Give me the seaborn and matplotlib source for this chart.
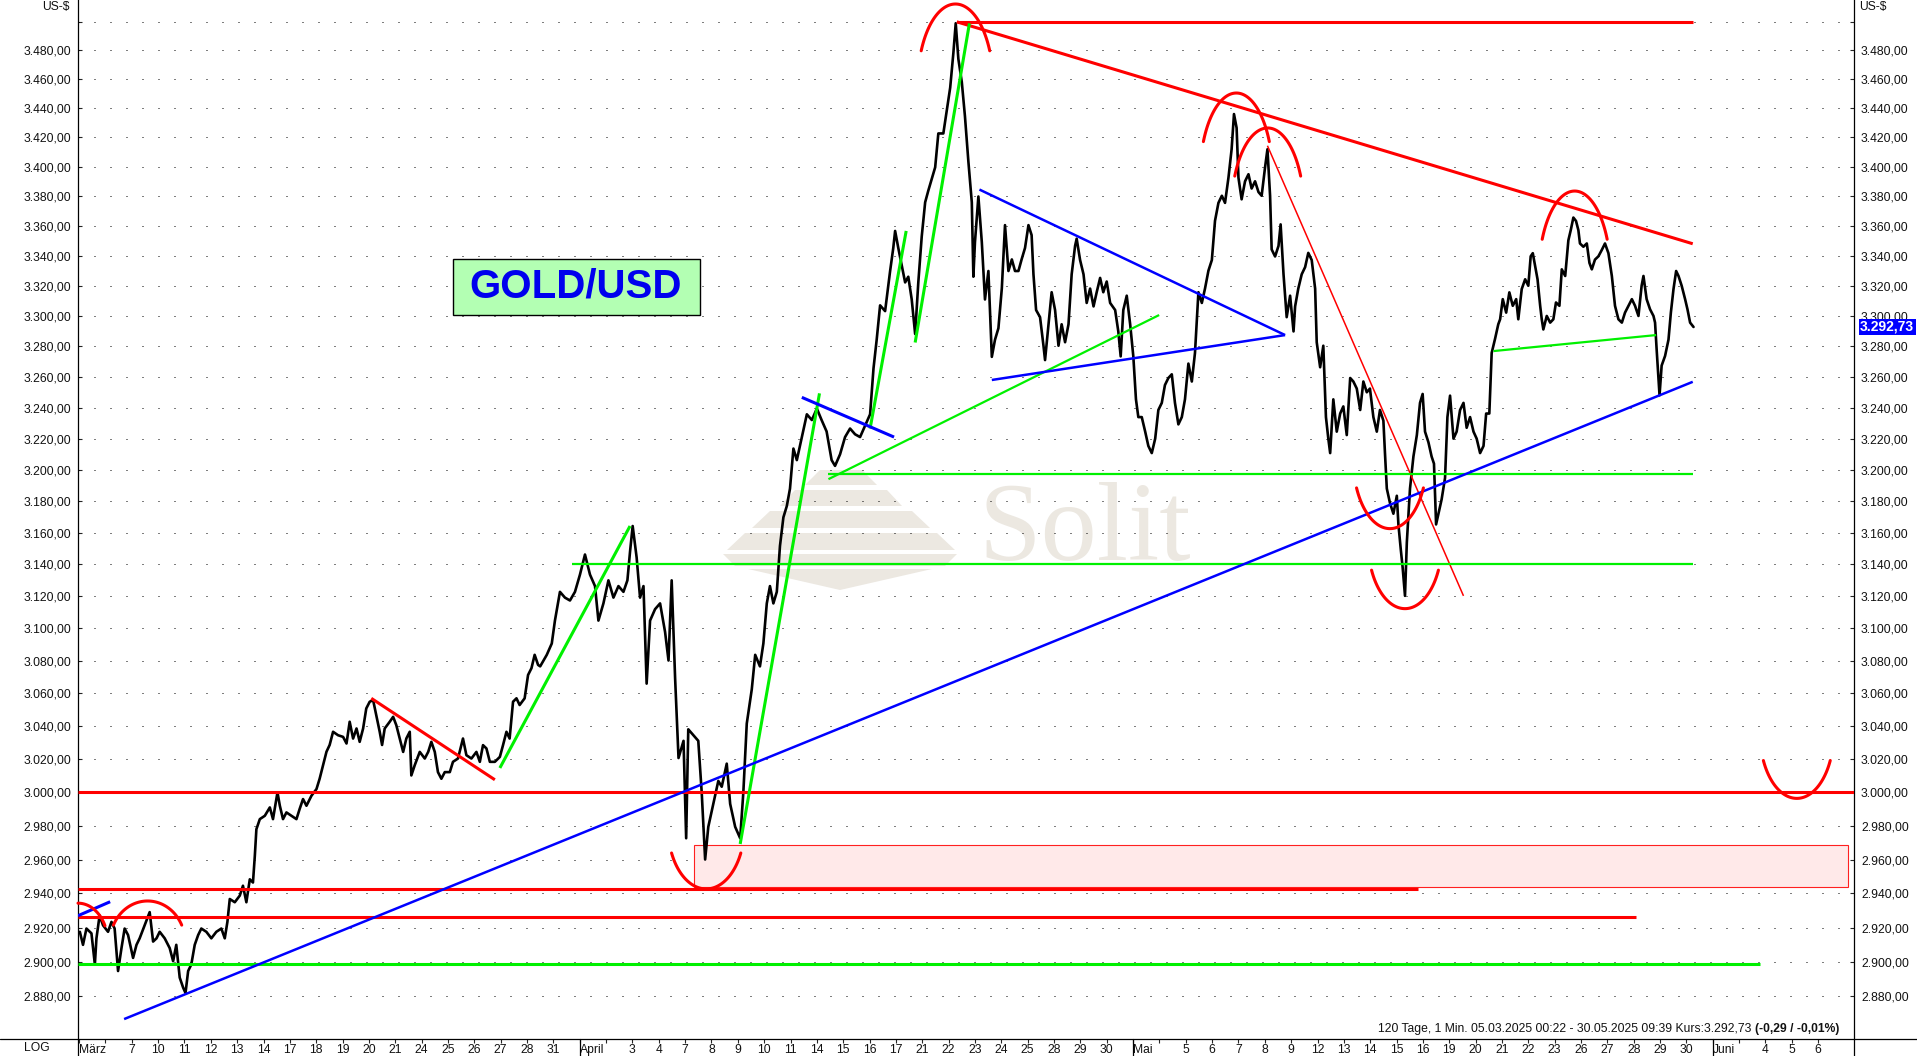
import matplotlib
matplotlib.use("Agg")
import matplotlib.pyplot as plt
import numpy as np
import pandas as pd
import seaborn as sns
from matplotlib.lines import Line2D
from matplotlib.patches import Polygon, Rectangle
from matplotlib.ticker import FixedLocator, FuncFormatter, NullLocator
from matplotlib.transforms import blended_transform_factory

# trading days on the time axis
mar_days = [5, 6, 7, 10, 11, 12, 13, 14, 17, 18, 19, 20, 21, 24, 25, 26, 27, 28, 31]
apr_days = [1, 2, 3, 4, 7, 8, 9, 10, 11, 14, 15, 16, 17, 21, 22, 23, 24, 25, 28, 29, 30]
may_days = [1, 2, 5, 6, 7, 8, 9, 12, 13, 14, 15, 16, 19, 20, 21, 22, 23, 26, 27, 28, 29, 30]
jun_days = [2, 3, 4, 5, 6]
month_names = ["März", "April", "Mai", "Juni"]

path_mar = [
    (0.03, 2917.5), (0.15, 2909.9), (0.28, 2919.4), (0.47, 2916.6), (0.60, 2898.5), (0.66, 2913.7),
    (0.78, 2927.1), (0.91, 2921.3), (1.10, 2917.5), (1.23, 2923.3), (1.35, 2919.4), (1.48, 2894.7),
    (1.61, 2908.0), (1.73, 2919.4), (1.86, 2915.6), (2.05, 2902.3), (2.18, 2909.9), (2.30, 2913.7),
    (2.49, 2921.3), (2.68, 2929.0), (2.81, 2911.8), (2.94, 2913.7), (3.06, 2917.5), (3.25, 2913.7),
    (3.44, 2908.0), (3.57, 2900.4), (3.69, 2909.9), (3.82, 2890.9), (3.95, 2885.1), (4.04, 2882.0),
    (4.14, 2894.7), (4.26, 2898.5), (4.39, 2909.9), (4.52, 2915.6), (4.64, 2919.4), (4.83, 2917.5),
    (5.02, 2913.7), (5.21, 2917.5), (5.40, 2919.4), (5.53, 2913.7), (5.63, 2923.3), (5.72, 2936.7),
    (5.91, 2934.8), (6.10, 2938.7), (6.22, 2944.5), (6.35, 2934.8), (6.48, 2948.3), (6.60, 2946.4),
    (6.67, 2962.0), (6.73, 2978.0), (6.86, 2984.0), (7.05, 2986.0), (7.24, 2991.0), (7.36, 2984.0),
    (7.53, 3000.0), (7.62, 2992.0), (7.74, 2984.0), (7.87, 2988.0), (8.06, 2986.0), (8.25, 2984.0),
    (8.37, 2990.0), (8.50, 2996.0), (8.63, 2992.0), (8.82, 2998.0), (9.01, 3002.0), (9.13, 3008.2),
    (9.26, 3016.3), (9.39, 3024.5), (9.51, 3028.6), (9.64, 3036.6), (9.83, 3034.5), (10.02, 3033.5),
    (10.15, 3029.5), (10.27, 3042.7), (10.40, 3032.5), (10.53, 3038.6), (10.65, 3030.5), (10.78, 3038.6),
    (10.90, 3050.8), (11.03, 3054.9), (11.16, 3055.9), (11.28, 3046.7), (11.41, 3036.6), (11.50, 3028.6),
    (11.60, 3038.6), (11.79, 3042.7), (11.92, 3045.7), (12.04, 3040.6), (12.17, 3032.5), (12.30, 3024.4),
    (12.42, 3032.5), (12.55, 3036.6), (12.61, 3010.2), (12.74, 3016.4), (12.93, 3024.4), (13.12, 3020.4),
    (13.25, 3024.4), (13.37, 3030.5), (13.50, 3024.4), (13.62, 3012.2), (13.75, 3008.2), (13.88, 3012.2),
    (14.07, 3012.2), (14.19, 3018.4), (14.38, 3020.4), (14.57, 3032.5), (14.70, 3022.4), (14.89, 3020.4),
    (15.08, 3024.4), (15.21, 3018.4), (15.33, 3028.5), (15.46, 3026.5), (15.59, 3018.4), (15.78, 3018.4),
    (15.97, 3021.4), (16.09, 3028.5), (16.22, 3036.6), (16.34, 3032.5), (16.47, 3054.9), (16.60, 3057.0),
    (16.72, 3052.9), (16.91, 3057.0), (17.04, 3071.3), (17.17, 3075.5), (17.29, 3083.7), (17.42, 3077.5),
]
path_apr = [
    (17.50, 3076.6), (17.75, 3083.7), (17.94, 3090.7), (18.06, 3104.9), (18.25, 3122.8), (18.44, 3119.2),
    (18.63, 3117.4), (18.82, 3122.8), (19.01, 3133.6), (19.20, 3146.2), (19.39, 3133.6), (19.58, 3126.4),
    (19.71, 3104.9), (19.90, 3115.6), (20.09, 3130.0), (20.28, 3119.2), (20.47, 3126.4), (20.66, 3122.8),
    (20.81, 3130.0), (20.91, 3148.0), (21.01, 3164.2), (21.16, 3144.4), (21.29, 3119.2), (21.42, 3126.4),
    (21.54, 3066.0), (21.67, 3104.9), (21.86, 3112.0), (22.05, 3115.6), (22.24, 3097.8), (22.37, 3080.2),
    (22.49, 3130.0), (22.62, 3069.5), (22.75, 3020.7), (22.94, 3031.1), (23.04, 2972.6), (23.12, 3038.1),
    (23.31, 3034.6), (23.50, 3031.1), (23.63, 3000.0), (23.76, 2960.0), (23.88, 2979.4), (24.07, 2993.1),
    (24.26, 3006.9), (24.39, 3003.4), (24.58, 3017.3), (24.71, 2993.1), (24.90, 2979.4), (25.09, 2972.6),
    (25.21, 3000.0), (25.34, 3041.6), (25.53, 3062.5), (25.66, 3083.7), (25.84, 3076.6), (25.97, 3090.7),
    (26.10, 3115.6), (26.22, 3126.4), (26.35, 3115.6), (26.48, 3122.8), (26.60, 3151.6), (26.73, 3169.7),
    (26.86, 3176.9), (26.98, 3187.9), (27.11, 3213.6), (27.24, 3206.2), (27.43, 3221.0), (27.62, 3235.7),
    (27.81, 3232.0), (28.00, 3239.4), (28.18, 3232.0), (28.37, 3224.6), (28.56, 3206.2), (28.69, 3202.5),
    (28.88, 3209.9), (29.07, 3221.0), (29.26, 3226.5), (29.45, 3222.8), (29.64, 3221.0), (29.83, 3228.3),
    (30.02, 3235.7), (30.15, 3265.6), (30.27, 3284.3), (30.40, 3307.0), (30.59, 3303.2), (30.78, 3329.8),
    (30.90, 3345.2), (30.97, 3356.6), (31.09, 3345.2), (31.22, 3333.7), (31.35, 3322.2), (31.47, 3326.0),
    (31.60, 3310.9), (31.73, 3288.1), (31.85, 3322.2), (31.98, 3352.9), (32.11, 3375.9), (32.23, 3383.8),
    (32.36, 3391.7), (32.49, 3399.6), (32.61, 3422.7), (32.80, 3422.7), (32.93, 3438.5), (33.06, 3454.2),
    (33.18, 3478.1), (33.27, 3499.0), (33.37, 3474.1), (33.50, 3458.2), (33.62, 3434.5), (33.75, 3403.6),
    (33.88, 3375.9), (33.94, 3326.0), (34.00, 3349.1), (34.13, 3379.8), (34.26, 3349.1), (34.38, 3310.9),
    (34.51, 3329.8), (34.64, 3273.1), (34.76, 3284.3), (34.89, 3291.9), (35.02, 3318.4), (35.14, 3360.5),
    (35.27, 3329.8), (35.40, 3337.5), (35.52, 3329.8), (35.65, 3329.8), (35.77, 3337.5), (35.90, 3345.2),
    (36.03, 3360.5),
]
path_may = [
    (36.15, 3353.8), (36.22, 3327.6), (36.32, 3303.9), (36.47, 3299.2), (36.60, 3280.4), (36.66, 3271.0),
    (36.79, 3294.5), (36.91, 3315.7), (37.04, 3303.9), (37.17, 3280.4), (37.29, 3294.5), (37.42, 3282.7),
    (37.55, 3294.5), (37.67, 3327.6), (37.80, 3346.6), (37.86, 3351.4), (37.99, 3337.1), (38.12, 3327.6),
    (38.24, 3308.6), (38.37, 3318.1), (38.50, 3306.3), (38.62, 3315.7), (38.75, 3325.2), (38.87, 3315.7),
    (39.00, 3322.8), (39.13, 3308.6), (39.32, 3303.9), (39.44, 3289.8), (39.53, 3273.4), (39.63, 3303.9),
    (39.76, 3313.4), (39.89, 3294.5), (40.01, 3273.4), (40.11, 3245.4), (40.20, 3233.9), (40.33, 3233.9),
    (40.46, 3224.5), (40.58, 3215.3), (40.71, 3210.7), (40.84, 3220.0), (40.96, 3238.5), (41.09, 3243.1),
    (41.21, 3254.7), (41.34, 3259.3), (41.47, 3261.7), (41.59, 3243.1), (41.72, 3229.2), (41.85, 3233.9),
    (41.97, 3245.4), (42.10, 3268.7), (42.23, 3257.0), (42.35, 3275.7), (42.48, 3315.7), (42.61, 3308.6),
    (42.73, 3318.1), (42.86, 3330.0), (42.99, 3337.1), (43.11, 3363.4), (43.24, 3375.5), (43.37, 3380.3),
    (43.49, 3375.5), (43.62, 3392.5), (43.74, 3411.9), (43.83, 3436.0), (43.93, 3426.5), (44.00, 3392.5),
    (44.12, 3377.9), (44.25, 3390.1), (44.38, 3394.9), (44.50, 3385.2), (44.63, 3390.1), (44.76, 3382.8),
    (44.88, 3380.3), (45.01, 3399.7), (45.10, 3411.9), (45.20, 3380.3), (45.26, 3344.2), (45.39, 3339.5),
    (45.52, 3346.6), (45.60, 3361.0), (45.71, 3327.6), (45.83, 3299.2), (45.96, 3313.4), (46.09, 3289.8),
    (46.15, 3306.3), (46.27, 3318.1), (46.40, 3327.6), (46.53, 3332.4), (46.65, 3341.9), (46.78, 3337.1),
    (46.91, 3318.1), (46.97, 3282.7), (47.10, 3266.3), (47.22, 3280.4), (47.32, 3233.9), (47.41, 3220.0),
    (47.48, 3210.7), (47.60, 3245.4), (47.73, 3224.5), (47.86, 3236.2), (47.98, 3240.8), (48.11, 3222.3),
    (48.24, 3259.3), (48.36, 3257.0), (48.49, 3252.4), (48.62, 3238.5), (48.74, 3257.0), (48.87, 3250.0),
    (48.99, 3252.4), (49.12, 3233.9), (49.25, 3224.5), (49.37, 3238.5), (49.50, 3231.6), (49.56, 3210.7),
    (49.63, 3188.0), (49.75, 3178.8), (49.88, 3172.0), (50.01, 3183.4), (50.07, 3165.2), (50.16, 3149.4),
    (50.23, 3138.2), (50.32, 3120.3), (50.39, 3153.9), (50.51, 3188.0), (50.64, 3208.5), (50.77, 3222.3),
    (50.89, 3243.1), (50.99, 3248.9), (51.08, 3224.5), (51.21, 3217.6), (51.33, 3208.5), (51.42, 3203.9),
    (51.50, 3165.2), (51.59, 3172.0), (51.71, 3181.1), (51.84, 3194.8), (51.93, 3233.9), (52.03, 3247.8),
    (52.16, 3220.0), (52.28, 3224.5), (52.41, 3238.5), (52.54, 3243.1), (52.66, 3227.0), (52.79, 3233.9),
    (52.92, 3224.5), (53.04, 3220.0), (53.17, 3210.7), (53.30, 3215.3), (53.40, 3236.2), (53.52, 3236.2),
    (53.61, 3275.7), (53.74, 3285.1), (53.86, 3294.5),
]
path_end = [
    (53.93, 3297.8), (54.03, 3311.1), (54.16, 3302.2), (54.28, 3315.6), (54.41, 3306.7), (54.54, 3311.1),
    (54.62, 3297.8), (54.75, 3317.8), (54.88, 3324.3), (55.00, 3320.0), (55.09, 3339.6), (55.17, 3341.7),
    (55.26, 3333.0), (55.35, 3324.3), (55.45, 3306.7), (55.51, 3297.8), (55.57, 3291.1), (55.70, 3300.0),
    (55.83, 3295.6), (55.95, 3297.8), (56.05, 3308.9), (56.18, 3306.7), (56.27, 3330.9), (56.40, 3326.5),
    (56.52, 3350.3), (56.61, 3357.1), (56.71, 3365.6), (56.81, 3363.3), (56.90, 3357.1), (56.96, 3348.2),
    (57.09, 3346.0), (57.22, 3348.2), (57.32, 3335.2), (57.41, 3330.9), (57.53, 3337.4), (57.66, 3339.6),
    (57.79, 3343.9), (57.91, 3348.2), (58.04, 3341.7), (58.17, 3326.5), (58.29, 3306.7), (58.42, 3297.8),
    (58.55, 3295.6), (58.67, 3302.2), (58.80, 3306.7), (58.93, 3311.1), (59.05, 3306.7), (59.18, 3300.0),
    (59.30, 3320.0), (59.37, 3326.5), (59.49, 3311.1), (59.62, 3304.4), (59.75, 3300.0), (59.81, 3295.6),
    (59.87, 3278.0), (59.98, 3248.0), (60.06, 3267.4), (60.19, 3273.7), (60.32, 3284.4), (60.41, 3302.2),
    (60.51, 3317.8), (60.61, 3329.8), (60.70, 3326.5), (60.82, 3320.0), (60.95, 3311.1), (61.04, 3304.4),
    (61.14, 3295.6), (61.24, 3293.3), (61.27, 3292.73),
]
last_price = 3292.73
price_ticks = list(range(2880, 3501, 20))

# hand-drawn lines: ((t0, p0), (t1, p1))
red_lines = [
    ((33.31, 3500.0), (61.25, 3500.0)),
    ((33.31, 3500.0), (61.24, 3348.0)),
    ((-0.04, 3000.0), (67.36, 3000.0)),
    ((-0.04, 2942.5), (50.82, 2942.5)),
    ((-0.04, 2926.2), (59.10, 2926.2)),
    ((11.09, 3057.0), (15.78, 3007.6)),
]
red_thin_lines = [((45.10, 3414.3), (52.54, 3120.3))]
green_lines = [
    ((-0.04, 2898.8), (63.80, 2898.8)),
    ((15.97, 3014.7), (20.91, 3164.2)),
    ((25.09, 2969.2), (28.10, 3249.3)),
    ((30.02, 3226.5), (31.39, 3356.6)),
    ((31.73, 3282.5), (33.79, 3498.9)),
]
green_thin_lines = [
    ((28.44, 3197.5), (61.26, 3197.5)),
    ((18.70, 3140.0), (61.26, 3140.0)),
    ((28.44, 3194.0), (40.99, 3300.6)),
    ((53.68, 3276.9), (59.85, 3287.4)),
]
blue_lines = [
    ((-0.04, 2926.9), (1.18, 2935.1)),
    ((27.43, 3246.7), (30.93, 3221.0)),
]
blue_thin_lines = [
    ((1.71, 2867.0), (61.24, 3256.8)),
    ((34.17, 3384.5), (45.77, 3287.4)),
    ((34.64, 3258.0), (45.77, 3287.4)),
]

# hand-drawn arcs: ellipse centre (t, price), radius in days, radius in log10 price, from deg, to deg
arcs = [
    (-0.04, 2911.3, 1.13, 0.00341, 25, 90),
    (2.60, 2911.1, 1.43, 0.00363, 25, 155),
    (33.26, 3456.0, 1.435, 0.00704, 25, 155),
    (43.92, 3392.9, 1.38, 0.00731, 25, 155),
    (45.11, 3369.8, 1.38, 0.00724, 25, 155),
    (49.75, 3207.5, 1.40, 0.00613, 205, 335),
    (50.32, 3154.1, 1.40, 0.00579, 205, 335),
    (56.76, 3327.4, 1.36, 0.00726, 25, 155),
    (65.19, 3036.0, 1.40, 0.00570, 205, 335),
    (23.80, 2979.5, 1.45, 0.00541, 205, 335),
]

# shaded zone: t from, t to, price low, price high
zone = (23.35, 67.15, 2943.5, 2968.5)

W, H = 1917, 1056


def german(v):
    return f"{v:,.2f}".replace(",", "X").replace(".", ",").replace("X", ".")


def fp(x, y):
    # figure pixel (from top-left) to figure fraction
    return x / W, 1 - y / H


sns.set_style("white")
plt.rcParams["font.family"] = ["Liberation Sans", "DejaVu Sans"]

fig = plt.figure(figsize=(W / 100, H / 100), dpi=100)
ax = fig.add_axes([78 / W, 17 / H, (1854 - 78) / W, 1 - 17 / H])

df = pd.DataFrame(path_mar + path_apr + path_may + path_end, columns=["t", "price"])
sns.lineplot(data=df, x="t", y="price", sort=False, estimator=None,
             color="black", lw=1.9, ax=ax, zorder=3)
ax.set_yscale("log")
ax.set_xlim(-0.04, 67.36)
ax.set_ylim(2855.6, 3515.3)
ax.set_xlabel("")
ax.set_ylabel("")

# dotted price grid
for v in price_ticks:
    ax.axhline(v, color="black", lw=0.72, ls=(0, (1, 15)), zorder=0.6)

# watermark
wm = "#ece8e1"
bands = [
    [(820, 470), (862, 470), (877, 485), (805, 485)],
    [(795, 490), (887, 490), (902, 506), (780, 506)],
    [(770, 511), (912, 511), (930, 528), (752, 528)],
    [(745, 533), (937, 533), (955, 550), (727, 550)],
    [(723, 554), (957, 554), (945, 566), (735, 566)],
    [(748, 569), (932, 569), (840, 590)],
]
for b in bands:
    ax.add_patch(Polygon([fp(x, y) for x, y in b], closed=True, fc=wm, ec="none",
                         transform=fig.transFigure, zorder=0.5))
ax.text(*fp(978, 560), "Solit", transform=fig.transFigure, family=["Liberation Serif", "DejaVu Serif"],
        fontsize=81, color=wm, ha="left", va="baseline", zorder=0.5)

# shaded zone
t0, t1, lo, hi = zone
ax.add_patch(Rectangle((t0, lo), t1 - t0, hi - lo, fc="#ffe9e9", ec="#ff2020", lw=0.8, zorder=1))


def draw(lines, color, lw):
    for (xa, ya), (xb, yb) in lines:
        ax.plot([xa, xb], [ya, yb], color=color, lw=lw, solid_capstyle="butt", zorder=4)


draw(red_lines, "#ff0000", 2.2)
draw(red_thin_lines, "#ff0000", 1.1)
draw(green_lines, "#00f000", 2.2)
draw(green_thin_lines, "#00f000", 1.6)
draw(blue_lines, "#0000ff", 2.2)
draw(blue_thin_lines, "#0000ff", 1.8)

for ct, cp, rx, ry, a0, a1 in arcs:
    th = np.radians(np.linspace(a0, a1, 80))
    ax.plot(ct + rx * np.cos(th), cp * 10 ** (ry * np.sin(th)), color="#ff0000", lw=2.2,
            zorder=4, clip_on=False)

# axes, ticks
for s in ["top", "bottom"]:
    ax.spines[s].set_visible(False)
for s in ["left", "right"]:
    ax.spines[s].set_color("black")
    ax.spines[s].set_linewidth(0.9)

ax.yaxis.set_major_locator(FixedLocator(price_ticks))
ax.yaxis.set_minor_locator(NullLocator())
ax.yaxis.set_major_formatter(FuncFormatter(lambda v, pos: "" if v > 3490 else german(v)))
ax.tick_params(axis="y", which="major", left=True, right=True, labelleft=True, labelright=True,
               direction="in", length=3, width=0.8, pad=5, labelsize=8.7, labelcolor="#111111")

x_labels = []
for name, days in zip(month_names, [mar_days, apr_days, may_days, jun_days]):
    for i, d in enumerate(days):
        x_labels.append(name if i == 0 else ("" if i == 1 else str(d)))
ax.set_xticks(range(len(x_labels)))
ax.set_xticklabels(x_labels)
ax.xaxis.set_minor_locator(NullLocator())
ax.tick_params(axis="x", which="major", bottom=True, direction="out", length=3, width=0.8,
               pad=0.5, labelsize=8.7, labelcolor="#111111")
for lbl in ax.get_xticklabels():
    if lbl.get_text() in month_names:
        lbl.set_ha("left")

# month separators under the axis
month_pos = [0, len(mar_days), len(mar_days) + len(apr_days), len(mar_days) + len(apr_days) + len(may_days)]
trans_x = blended_transform_factory(ax.transData, ax.transAxes)
for m in month_pos[1:]:
    ax.plot([m, m], [0, -17 / 1039], color="black", lw=0.9, transform=trans_x, clip_on=False)

# frame lines of the chart window
fig.add_artist(Line2D([0, 1], [17 / H, 17 / H], color="black", lw=0.9, transform=fig.transFigure))
for xp in [78, 1854]:
    fig.add_artist(Line2D([xp / W, xp / W], [0, 17 / H], color="black", lw=0.9, transform=fig.transFigure))

# GOLD/USD box
bx0, by0 = fp(453, 315)
ax.add_patch(Rectangle((bx0, by0), (700 - 453) / W, (315 - 259) / H, fc="#b3ffb3", ec="black", lw=1.0,
                       transform=fig.transFigure, zorder=5))
ax.text(*fp(576, 298), "GOLD/USD", transform=fig.transFigure, fontsize=29, fontweight="bold",
        color="#0000ee", ha="center", va="baseline", zorder=6)

# last price tag on the right axis
trans_tag = blended_transform_factory(ax.transAxes, ax.transData)
ax.text(1.0 + 6 / 1776, last_price, german(last_price), transform=trans_tag, ha="left", va="center",
        fontsize=10, fontweight="bold", color="white", zorder=6, clip_on=False,
        bbox=dict(boxstyle="square,pad=0.1", fc="#0000ff", ec="none"))

fig.text(*fp(70, 7), "US-$", ha="right", va="center", fontsize=8.7, color="#111111")
fig.text(*fp(1859, 7), "US-$", ha="left", va="center", fontsize=8.7, color="#111111")
fig.text(*fp(24, 1048), "LOG", ha="left", va="center", fontsize=8.7, color="#111111")

t_bold = fig.text(*fp(1839, 1029), "(-0,29 / -0,01%)", ha="right", va="center", fontsize=8.7,
                  fontweight="bold", color="#111111")
renderer = fig.canvas.get_renderer()
bb = t_bold.get_window_extent(renderer)
fig.text((bb.x0 - 3) / W, 1 - 1029 / H,
         "120 Tage, 1 Min. 05.03.2025 00:22 - 30.05.2025 09:39 Kurs:" + german(last_price),
         ha="right", va="center", fontsize=8.7, color="#111111")

fig.savefig("out.png", dpi=100)
